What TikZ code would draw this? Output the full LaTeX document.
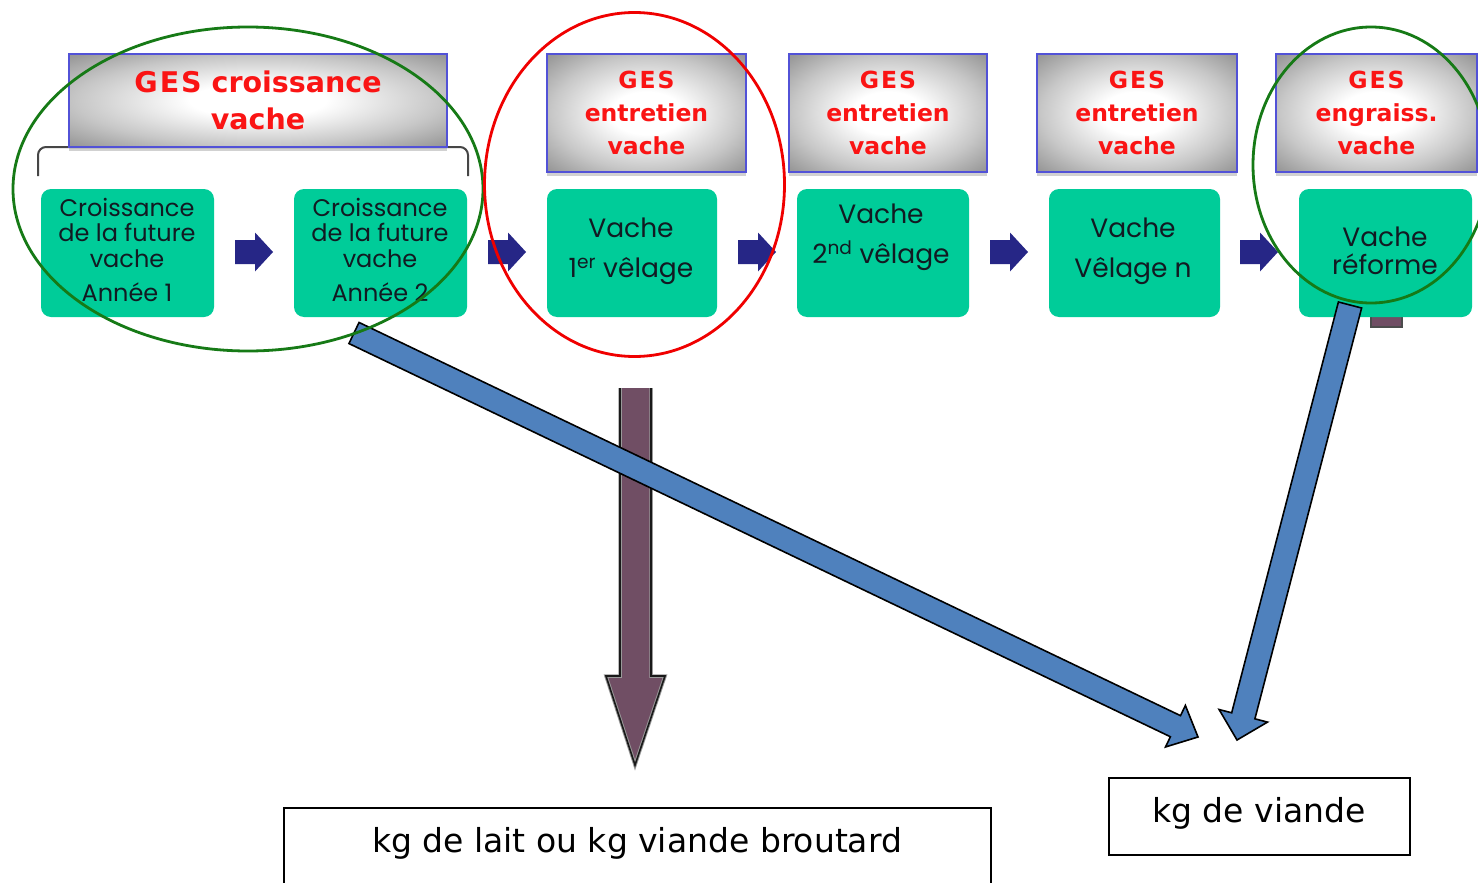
\documentclass[tikz,border=0pt]{standalone}
\usepackage{fontspec}
\setmainfont{DejaVu Sans}
\newfontfamily\stagefont{Poppins}
\usetikzlibrary{calc,shadows}

\definecolor{boxgreen}{RGB}{0,204,153}
\definecolor{hdrblue}{RGB}{82,82,215}
\definecolor{hdrred}{RGB}{250,20,20}
\definecolor{navy}{RGB}{38,38,134}
\definecolor{steel}{RGB}{79,129,189}
\definecolor{plum}{RGB}{112,78,100}
\definecolor{ringgreen}{RGB}{22,122,22}
\definecolor{ringred}{RGB}{240,0,0}
\definecolor{txtdark}{RGB}{18,26,34}
\definecolor{bracecol}{RGB}{70,70,70}

% light centre fading to grey towards the border of each header box
\pgfdeclareradialshading{hdrglow}{\pgfpointorigin}{%
  color(0bp)=(white); color(9bp)=(white); color(24bp)=(black!22);
  color(34bp)=(black!40); color(50bp)=(black!52)}

% letter-spaced acronym
\newcommand\ges{G\kern2pt E\kern2pt S}

% wide block arrow: start, tip, half shaft width, half head width, head length
\newcommand\widearrow[5]{%
  \coordinate (wa-base) at ($(#2)!#5!(#1)$);
  \filldraw[fatarrow]
    ($(#1)!#3!90:(#2)$) -- ($(wa-base)!#3!90:(#2)$) -- ($(wa-base)!#4!90:(#2)$)
    -- (#2)
    -- ($(wa-base)!#4!-90:(#2)$) -- ($(wa-base)!#3!-90:(#2)$) -- ($(#1)!#3!-90:(#2)$)
    -- cycle;}

\begin{document}
\begin{tikzpicture}[x=1pt,y=-1pt,
  hdr/.style={draw=hdrblue, line width=2pt, shading=hdrglow, inner sep=0pt,
    align=center, text=hdrred,
    drop shadow={shadow xshift=0pt, shadow yshift=-4pt, opacity=0.18, fill=black}},
  hdrbig/.style={hdr, font=\fontsize{28.5}{37}\selectfont\bfseries},
  hdrsmall/.style={hdr, font=\fontsize{23.5}{33}\selectfont\bfseries},
  stage/.style={fill=boxgreen, rounded corners=10pt, minimum height=128, inner sep=0pt},
  stagetext/.style={align=center, text=txtdark, inner sep=0pt},
  outbox/.style={draw=black, line width=2.2pt, fill=white, inner sep=0pt},
  outtext/.style={inner sep=0pt, font=\fontsize{33}{38}\selectfont, text=black},
  fatarrow/.style={fill=steel, draw=black, line width=1.6pt, line join=miter},
  ring/.style={line width=2.8pt},
  flowarrow/.pic={\fill[navy] (-19,-12) -- (1,-12) -- (1,-19.5) -- (19,0)
      -- (1,19.5) -- (1,12) -- (-19,12) -- cycle;}
]
\useasboundingbox (0,0) rectangle (1478,883);
\fill[white] (0,0) rectangle (1478,883);

% bracket grouping the two growth years
\draw[bracecol, line width=2pt, rounded corners=8pt]
  (38,176) -- (38,147) -- (468,147) -- (468,176);

% GES headers
\node[hdrbig, minimum width=378, minimum height=93] (h1) at (258,100.5) {\ges{} croissance\\vache};
\node[hdrsmall, minimum width=199, minimum height=118] (h2) at (646.5,113) {\ges\\entretien\\vache};
\node[hdrsmall, minimum width=198, minimum height=118] (h3) at (888,113) {\ges\\entretien\\vache};
\node[hdrsmall, minimum width=200, minimum height=118] (h4) at (1137,113) {\ges\\entretien\\vache};
\node[hdrsmall, minimum width=201, minimum height=118] (h5) at (1376.5,113) {\ges\\engraiss.\\vache};

% stub of a shaft peeking out below the last stage
\filldraw[fill=plum, draw=black!70, line width=1.2pt] (1371,300) rectangle (1402,327);

% stages of the cow's life
\node[stage, minimum width=173] (g1) at (127.5,253) {};
\node[stage, minimum width=173] (g2) at (380.5,253) {};
\node[stage, minimum width=170] (g3) at (632,253) {};
\node[stage, minimum width=172] (g4) at (883,253) {};
\node[stage, minimum width=171] (g5) at (1134.5,253) {};
\node[stage, minimum width=173] (g6) at (1385.5,253) {};

\node[stagetext, font=\stagefont\fontsize{24}{25.5}\selectfont] (g1t) at (127,250)
  {Croissance\\de la future\\vache\\[9pt]Année 1};
\node[stagetext, font=\stagefont\fontsize{24}{25.5}\selectfont] (g2t) at (380,250)
  {Croissance\\de la future\\vache\\[9pt]Année 2};
\node[stagetext, font=\stagefont\fontsize{26.5}{40}\selectfont] (g3t) at (631,251)
  {Vache\\1\textsuperscript{er} vêlage};
\node[stagetext, font=\stagefont\fontsize{26.5}{40}\selectfont] (g4t) at (881,237)
  {Vache\\2\textsuperscript{nd} vêlage};
\node[stagetext, font=\stagefont\fontsize{26.5}{40}\selectfont] (g5t) at (1133,251)
  {Vache\\Vêlage n};
\node[stagetext, font=\stagefont\fontsize{26.5}{28}\selectfont] (g6t) at (1385,251)
  {Vache\\réforme};

% progression arrows between stages
\pic at (254,252) {flowarrow};
\pic at (507,252) {flowarrow};
\pic at (757,252) {flowarrow};
\pic at (1009,252) {flowarrow};
\pic at (1259,252) {flowarrow};

% output boxes
\node[outbox, minimum width=707, minimum height=86] (milk) at (637.5,851) {};
\node[outtext] (milkt) at (637,843) {kg de lait ou kg viande broutard};
\node[outbox, minimum width=301, minimum height=77] (meat) at (1259.5,816.5) {};
\node[outtext] (meatt) at (1259,813) {kg de viande};

% downward arrow towards milk / calf meat
\coordinate (pa-top) at (635.5,388);
\coordinate (pa-tip) at (635,765);
\fill[plum] (620,388) -- (620,676) -- (606,676) -- (pa-tip) -- (665,676) -- (651,676) -- (651,388) -- cycle;
\draw[black!40, line width=3.5pt, line join=miter]
  (620,388) -- (620,676) -- (606,676) -- (pa-tip) -- (665,676) -- (651,676) -- (651,388);
\draw[black!90, line width=1.6pt, line join=miter]
  (620,388) -- (620,676) -- (606,676) -- (pa-tip) -- (665,676) -- (651,676) -- (651,388);

% arrows towards meat
\coordinate (ba-start) at (354,333);
\coordinate (ba-tip) at (1198,737);
\widearrow{ba-start}{ba-tip}{11.7pt}{23pt}{25pt}
\coordinate (bb-start) at (1350,305);
\coordinate (bb-tip) at (1237,740);
\widearrow{bb-start}{bb-tip}{12pt}{25pt}{25pt}

% highlighting rings
\draw[ring, ringgreen] (248,189) ellipse [x radius=235pt, y radius=162pt];
\draw[ring, ringred] (634.5,184.5) ellipse [x radius=150pt, y radius=172pt];
\draw[ring, ringgreen] (1371,165) ellipse [x radius=118pt, y radius=138pt];
\end{tikzpicture}
\end{document}
